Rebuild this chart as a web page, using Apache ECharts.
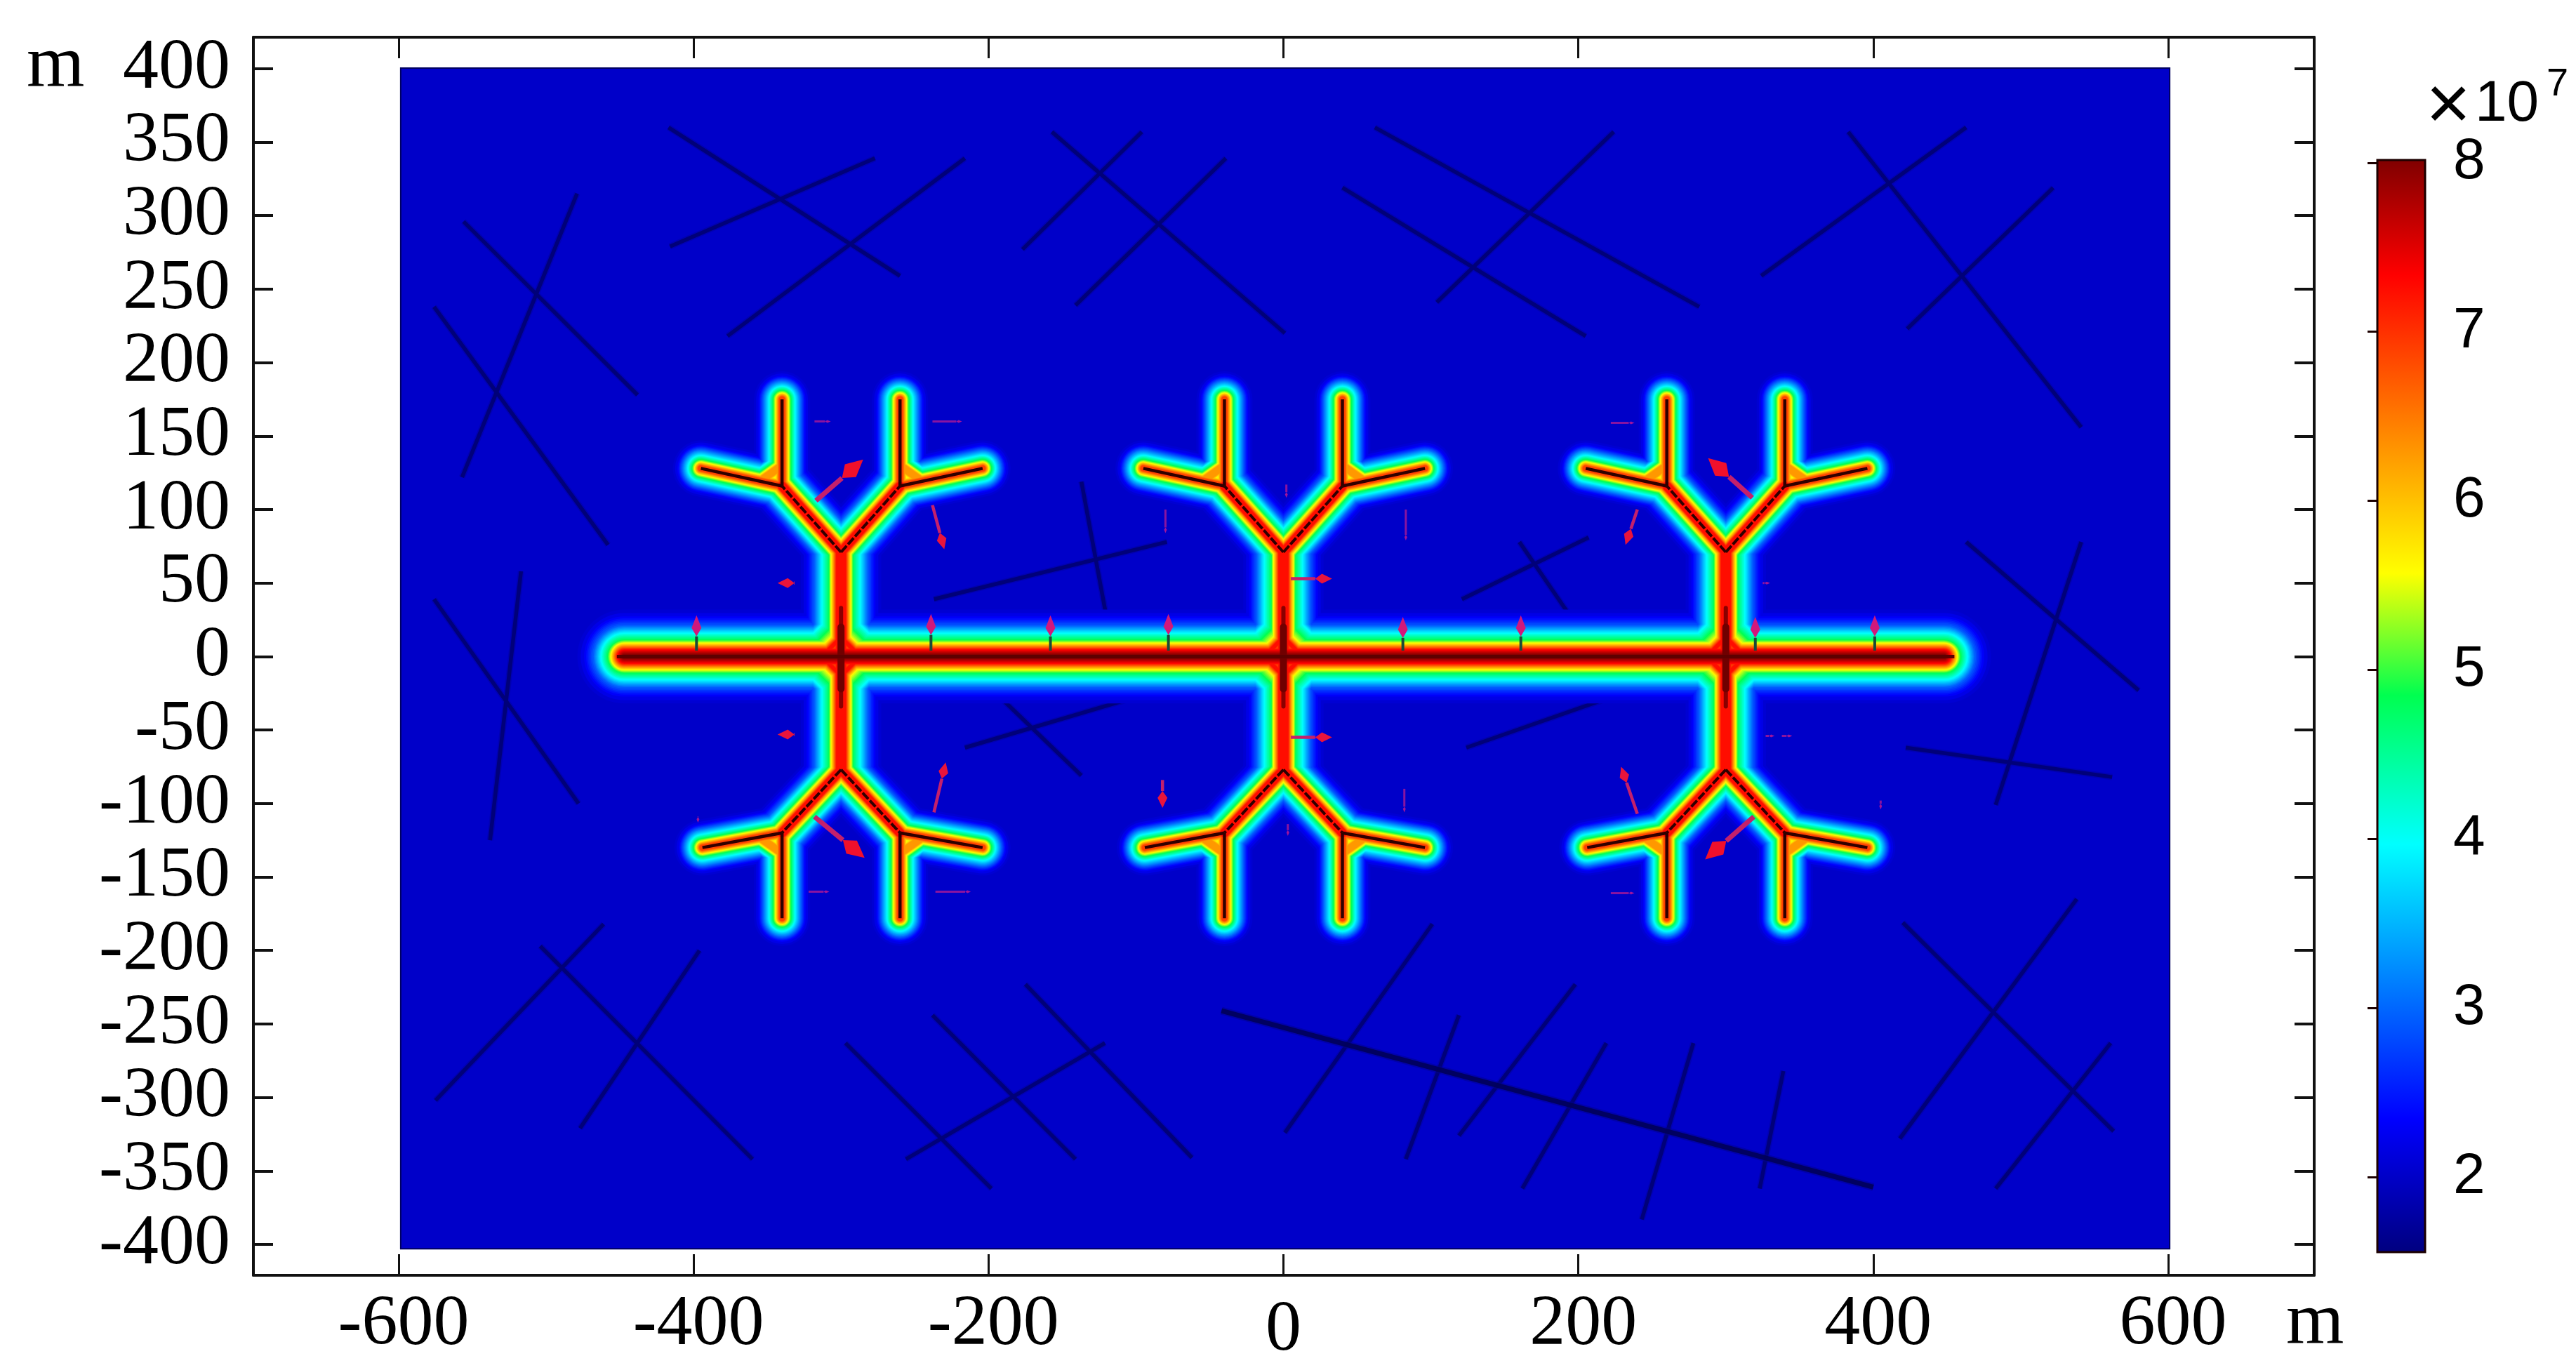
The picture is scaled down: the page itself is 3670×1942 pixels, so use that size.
<!DOCTYPE html>
<html><head><meta charset="utf-8">
<style>html,body{margin:0;padding:0;background:#fff}#c{width:3670px;height:1942px}</style>
<script src="https://cdn.jsdelivr.net/npm/echarts@6/dist/echarts.min.js"></script>
</head><body><div id="c"></div>
<script>
const xTicks=[-600,-400,-200,0,200,400,600];
const yTicks=[-400,-350,-300,-250,-200,-150,-100,-50,0,50,100,150,200,250,300,350,400];
const colorbarTicks=[2,3,4,5,6,7,8];
const colorbarRange=[1.556,8.016];
const domain=[[-598.6,-403,601,400.4]];
const treeCentres=[-300,0,300];
const mainFracture=[[[-447,0],[448,0]]];
const mainCore=[[[-452,0],[455,0]]];
const stems=[[[0,0],[0,71]],[[0,0],[0,-77]]];
const branches=[[[0,71],[-40,116]],[[0,71],[40,116]],[[0,-77],[-40,-120]],[[0,-77],[40,-120]]];
const twigs=[[[-40,116],[-40,175]],[[40,116],[40,175]],[[-40,116],[-95,128]],[[40,116],[96,128]],
  [[-40,-120],[-40,-178]],[[40,-120],[40,-178]],[[-40,-120],[-94,-130]],[[40,-120],[96,-130]]];
const stemCoresOuter=[[[0,33],[0,-34]]];
const stemCoresInner=[[[0,20],[0,-22]]];
const junctionFillets=[[[-13,0],[0,13]],[[13,0],[0,13]],[[-13,0],[0,-13]],[[13,0],[0,-13]]];
const junctionHalos=[[[-22,0],[0,22]],[[22,0],[0,22]],[[-22,0],[0,-22]],[[22,0],[0,-22]]];
const forkFillets=[[[-40,130],[-54,120]],[[40,130],[54,120]],[[-40,-134],[-54,-124]],[[40,-134],[54,-124]]];
const naturalFractures=[
 [-417,360,-260,259],[-416,279,-277,339],[-377,218,-216,339],[-556,296,-438,178],[-557,122,-479,315],[-576,238,-458,76],
 [-157,357,1,220],[-177,277,-96,357],[-141,239,-39,339],[62,360,282,238],[40,319,205,218],[104,241,224,357],
 [324,259,463,360],[383,357,541,156],[423,223,522,319],
 [-576,39,-478,-100],[-517,58,-538,-125],[-237,39,-79,78],[-137,119,-118,16],[121,39,207,81],[160,78,201,18],
 [463,78,580,-23],[541,78,483,-101],[-216,-62,-78,-21],[-197,-23,-137,-81],[124,-62,241,-21],[422,-62,562,-82],
 [-461,-182,-575,-302],[-504,-197,-360,-342],[-396,-200,-477,-321],
 [-238,-244,-141,-342],[-175,-223,-62,-341],[-297,-263,-198,-362],[-121,-263,-256,-342],
 [101,-182,1,-324],[119,-244,83,-342],[198,-223,119,-326],[219,-263,162,-362],[278,-263,243,-383],[339,-282,323,-362],
 [538,-165,418,-328],[420,-181,563,-323],[561,-263,483,-362]];
const longFracture=[[-42,-241,400,-361]];
const bigArrows=[[-317,106,-285,134],[-318,-109,-284,-137],[318,108,288,135],[319,-109,286,-138]];
const midArrows=[[-238,103,-230,73],[-237,-106,-229,-72],[240,100,232,76],[240,-107,229,-75],[-332,50,-343,50],[-332,-53,-343,-53],[5,53,33,53],[5,-55,33,-55],[-82,-84,-82,-103]];
const faintTicks=[[-318,160,-307,160],[-238,160,-218,160],[2,117,2,108],[-80,100,-80,84],[83,100,83,79],[82,-90,82,-106],[3,-114,3,-122],
 [-322,-160,-308,-160],[-236,-160,-212,-160],[222,159,238,159],[222,-161,238,-161],[325,50,330,50],[327,-54,333,-54],[338,-54,345,-54],[405,-98,405,-104],[-397,-109,-397,-113]];
const mainTicks=[[-398,4,-398,28],[-239,4,-239,29],[-158,4,-158,28],[-78,4,-78,29],[81,4,81,27],[161,4,161,28],[320,4,320,27],[401,4,401,28]];

const colormap=[[1.556,'#00007f'],[2.35,'#0000ff'],[3.97,'#00ffff'],[4.85,'#00ff50'],[5.57,'#ffff00'],[7.33,'#ff0000'],[8.016,'#7f0000']];
const hex=c=>[1,3,5].map(i=>parseInt(c.substr(i,2),16));
function colorAt(v){
  for(let i=1;i<colormap.length;i++){ if(v<=colormap[i][0]){
    const [a,ca]=colormap[i-1],[b,cb]=colormap[i],t=(v-a)/(b-a),A=hex(ca),B=hex(cb);
    return 'rgb('+A.map((q,k)=>Math.round(q+(B[k]-q)*t)).join(',')+')';}}
  return colormap[colormap.length-1][1];
}
// half-widths of the colour bands (pixels) for each fracture class, at [value, half width]
const bandMain=[[2.0,70],[2.35,56],[3,44],[3.97,34],[4.85,24],[5.57,19.5],[6.3,15.5],[7.33,10],[7.7,6.5],[8.016,3]];
const bandStem=[[2.0,60],[2.35,48],[3,38],[3.97,28],[4.85,17.5],[5.57,14.5],[6.3,11],[7.33,6.5]];
const bandBranch=[[2.0,48],[2.35,38],[3,30],[3.97,23],[4.85,16],[5.57,12.5],[6.3,9],[7.33,5.5]];
const bandTwig=[[2.0,42],[2.35,33],[3,27],[3.97,19],[4.85,13],[5.57,9.5],[6.3,6.5],[7.0,3.5]];
const bandJunction=[[2.0,55],[2.35,46],[3,40],[3.97,33],[4.85,21],[5.57,11],[6.3,7],[7.33,2]];
const bandHalo=[[2.0,40],[2.35,32],[3,26],[3.97,18],[4.85,6]];
const bandFork=[[2.0,30],[2.35,24],[3,20],[3.97,16],[4.85,11],[5.57,8],[6.3,5]];
function halfWidth(tbl,v){
  if(v<tbl[0][0]||v>tbl[tbl.length-1][0])return 0;
  for(let i=1;i<tbl.length;i++){ if(v<=tbl[i][0]){ const t=(v-tbl[i-1][0])/(tbl[i][0]-tbl[i-1][0]); return tbl[i-1][1]+(tbl[i][1]-tbl[i-1][1])*t; } }
  return 0;
}
function place(segs){const out=[];treeCentres.forEach(c=>segs.forEach(s=>{s.forEach(p=>out.push([p[0]+c,p[1]]));out.push(['-','-']);}));return out;}
function plain(segs){const out=[];segs.forEach(s=>{s.forEach(p=>out.push(p));out.push(['-','-']);});return out;}
function rows(list){const out=[];list.forEach(r=>{out.push([r[0],r[1]]);out.push([r[2],r[3]]);out.push(['-','-']);});return out;}

const classes=[[plain(mainFracture),bandMain],[place(stems),bandStem],[place(branches),bandBranch],[place(twigs),bandTwig],[place(junctionFillets),bandJunction],[place(junctionHalos),bandHalo],[place(forkFillets),bandFork]];
function lineSeries(data,color,width,z,extra){
  return Object.assign({type:'line',data,xAxisIndex:0,yAxisIndex:0,showSymbol:false,symbol:'none',silent:true,animation:false,z,clip:true,connectNulls:false,
    lineStyle:Object.assign({color,width,cap:'round',join:'round',opacity:1},extra||{})});
}
const series=[];
series.push({type:'custom',xAxisIndex:0,yAxisIndex:0,data:domain,silent:true,animation:false,z:2,clip:false,
  renderItem:(p,api)=>{const a=api.coord([api.value(0),api.value(3)]),b=api.coord([api.value(2),api.value(1)]);
    return {type:'rect',shape:{x:a[0],y:a[1],width:b[0]-a[0],height:b[1]-a[1]},style:{fill:'#0000c9',stroke:'#000060',lineWidth:2}};},
  encode:{x:[0,2],y:[1,3]}});
series.push(lineSeries(rows(naturalFractures),'#0000a0',9,3,{opacity:.5,cap:'butt'}));
series.push(lineSeries(rows(naturalFractures),'#00006a',5.5,3,{opacity:.8,cap:'butt'}));
series.push(lineSeries(rows(longFracture),'#000090',11,3,{opacity:.5,cap:'butt'}));
series.push(lineSeries(rows(longFracture),'#000058',7,3,{opacity:.9,cap:'butt'}));
let z=4;
for(let v=2.08;v<=8.02;v+=0.12){
  const col=colorAt(v);
  classes.forEach(([data,band])=>{const h=halfWidth(band,v); if(h>0) series.push(lineSeries(data,col,h*2,z));});
  z++;
}
series.push(lineSeries(place(branches),'#300000',4,z,{type:[12,3],cap:'butt'}));
series.push(lineSeries(place(twigs),'#300000',4.5,z,{cap:'butt'}));
series.push(lineSeries(place(stemCoresOuter),'#8a0000',6,z,{cap:'round'}));
series.push(lineSeries(place(stemCoresInner),'#700000',10,z,{cap:'round'}));
series.push(lineSeries(plain(mainCore),'#5e0000',5,z,{cap:'butt'}));
function arrowSeries(data,tail,head,tw,hl,hw){
  return {type:'custom',xAxisIndex:0,yAxisIndex:0,data,silent:true,animation:false,z:z+2,clip:false,encode:{x:[0,2],y:[1,3]},
   renderItem:(p,api)=>{const a=api.coord([api.value(0),api.value(1)]),b=api.coord([api.value(2),api.value(3)]);
     const dx=b[0]-a[0],dy=b[1]-a[1],L=Math.hypot(dx,dy)||1,ux=dx/L,uy=dy/L,nx=-uy,ny=ux;
     const m=[b[0]-ux*hl*.6,b[1]-uy*hl*.6],t=[b[0]-ux*hl,b[1]-uy*hl];
     return {type:'group',children:[
      {type:'line',shape:{x1:a[0],y1:a[1],x2:t[0],y2:t[1]},style:{stroke:tail,lineWidth:tw}},
      {type:'polygon',shape:{points:[b,[m[0]+nx*hw/2,m[1]+ny*hw/2],t,[m[0]-nx*hw/2,m[1]-ny*hw/2]]},style:{fill:head}}]};}};
}
series.push(arrowSeries(bigArrows,'#c4206c','#f0102c',7,40,24));
series.push(arrowSeries(midArrows,'#c4206c','#e8143c',4.5,24,14));
series.push(arrowSeries(mainTicks,'#1a4a38','#d0187c',4,30,14));
series.push(arrowSeries(faintTicks,'#8a14a0','#a0149c',3,8,4));
// colour bar
const cbStops=colormap.map(([v,c])=>({offset:(v-colorbarRange[0])/(colorbarRange[1]-colorbarRange[0]),color:c}));
series.push({type:'custom',xAxisIndex:2,yAxisIndex:2,data:[[0,colorbarRange[0],1,colorbarRange[1]]],silent:true,animation:false,z:2,clip:false,encode:{x:[0,2],y:[1,3]},
  renderItem:(p,api)=>{const a=api.coord([api.value(0),api.value(3)]),b=api.coord([api.value(2),api.value(1)]);
    return {type:'rect',shape:{x:a[0],y:a[1],width:b[0]-a[0],height:b[1]-a[1]},
      style:{fill:new echarts.graphic.LinearGradient(0,1,0,0,cbStops),stroke:'#1c0000',lineWidth:3}};}});

const serif='"Liberation Serif"',sans='"Liberation Sans"';
const X=[-698.5,699],Y=[-421,421.4];
function xAx(pos,labels){return {type:'value',gridIndex:0,position:pos,min:X[0],max:X[1],splitLine:{show:false},
  axisLine:{show:true,onZero:false,lineStyle:{color:'#111',width:4}},
  axisTick:{show:true,inside:true,length:30,customValues:xTicks,lineStyle:{color:'#111',width:3}},
  axisLabel:labels?{show:true,customValues:xTicks,fontFamily:serif,fontSize:102,color:'#000',margin:20,hideOverlap:false,showMinLabel:true,showMaxLabel:true,
     formatter:v=>v===0?'{z|0}':'{a|'+v+'}',rich:{a:{fontFamily:serif,fontSize:102,color:'#000',padding:[0,0,0,14]},z:{fontFamily:serif,fontSize:102,color:'#000',padding:[8,0,0,0]}}}:{show:false}};}
function yAx(pos,labels){return {type:'value',gridIndex:0,position:pos,min:Y[0],max:Y[1],splitLine:{show:false},
  axisLine:{show:true,onZero:false,lineStyle:{color:'#111',width:4}},
  axisTick:{show:true,inside:true,length:28,customValues:yTicks,lineStyle:{color:'#111',width:4}},
  axisLabel:labels?{show:true,customValues:yTicks,fontFamily:serif,fontSize:102,color:'#000',margin:33,hideOverlap:false,showMinLabel:true,showMaxLabel:true,padding:[9,0,0,0],formatter:v=>String(v)}:{show:false}};}
function cbY(pos,labels){return {type:'value',gridIndex:1,position:pos,min:colorbarRange[0],max:colorbarRange[1],splitLine:{show:false},
  axisLine:{show:false},axisTick:{show:true,inside:true,length:14,customValues:colorbarTicks,lineStyle:{color:'#1c0000',width:3}},
  axisLabel:labels?{show:true,customValues:colorbarTicks,fontFamily:sans,fontSize:82,color:'#000',margin:40,hideOverlap:false,padding:[4,0,0,0],formatter:v=>String(v)}:{show:false}};}
const option={
  backgroundColor:'#fff',animation:false,
  grid:[{left:361,top:53,width:2936,height:1764,containLabel:false,outerBoundsMode:'none'},{left:3387,top:228,width:68,height:1556,containLabel:false,outerBoundsMode:'none'}],
  xAxis:[xAx('bottom',true),xAx('top',false),{type:'value',gridIndex:1,min:0,max:1,show:false}],
  yAxis:[yAx('left',true),yAx('right',false),cbY('right',true),cbY('left',false)],
  series,
  graphic:[
    {type:'text',left:38,top:42,style:{text:'m',font:'106px "Liberation Serif"',fill:'#000'},z:100},
    {type:'text',left:3257,top:1833,style:{text:'m',font:'106px "Liberation Serif"',fill:'#000'},z:100},
    {type:'text',left:3456,top:99,style:{text:'×',font:'110px "Liberation Sans"',fill:'#000'},z:100},
    {type:'text',left:3526,top:108,style:{text:'10',font:'82px "Liberation Sans"',fill:'#000'},z:100},
    {type:'text',left:3628,top:93,style:{text:'7',font:'56px "Liberation Sans"',fill:'#000'},z:100}
  ]
};
const chart=echarts.init(document.getElementById('c'),null,{renderer:'canvas',width:3670,height:1942});
chart.setOption(option);
</script></body></html>
